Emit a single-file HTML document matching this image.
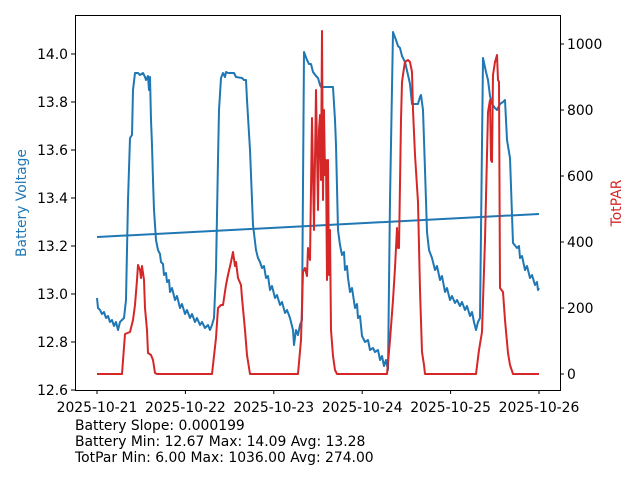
<!DOCTYPE html>
<html><head><style>body{margin:0;background:#fff}svg{display:block}text{font-family:"DejaVu Sans",sans-serif;font-size:13.9px;fill:#000}</style></head><body>
<svg width="640" height="480" viewBox="0 0 640 480">
<g stroke="#000" stroke-width="1" fill="none">
<rect x="75.5" y="15.5" width="485" height="375"/>
<path d="M75 390h-4M75 342h-4M75 294h-4M75 246h-4M75 198h-4M75 150h-4M75 102h-4M75 54h-4M75 390h-4"/>
<path d="M560 374h4M560 308h4M560 242h4M560 176h4M560 110h4M560 44h4"/>
<path d="M97 390v4M185.4 390v4M273.8 390v4M362.2 390v4M450.6 390v4M539 390v4"/>
</g>
<g text-anchor="end">
<text x="68" y="395">12.6</text><text x="68" y="347">12.8</text><text x="68" y="299">13.0</text><text x="68" y="251">13.2</text><text x="68" y="203">13.4</text><text x="68" y="155">13.6</text><text x="68" y="107">13.8</text><text x="68" y="59">14.0</text>
</g>
<g text-anchor="start">
<text x="567" y="379">0</text><text x="567" y="313">200</text><text x="567" y="247">400</text><text x="567" y="181">600</text><text x="567" y="115">800</text><text x="567" y="49">1000</text>
</g>
<g text-anchor="middle">
<text x="97" y="412">2025-10-21</text><text x="185.4" y="412">2025-10-22</text><text x="273.8" y="412">2025-10-23</text><text x="362.2" y="412">2025-10-24</text><text x="450.6" y="412">2025-10-25</text><text x="539" y="412">2025-10-26</text>
</g>
<text transform="translate(26,203) rotate(-90)" text-anchor="middle" style="fill:#1f77b4">Battery Voltage</text>
<text transform="translate(621,203) rotate(-90)" text-anchor="middle" style="fill:#d62728">TotPAR</text>
<text x="75" y="430">Battery Slope: 0.000199</text>
<text x="75" y="446">Battery Min: 12.67 Max: 14.09 Avg: 13.28</text>
<text x="75" y="462">TotPar Min: 6.00 Max: 1036.00 Avg: 274.00</text>
<g fill="none" stroke-width="2" stroke-linejoin="round">
<polyline stroke="#1f77b4" points="97,298 98,308 100,310 102,314 104,312 106,318 108,316 110,322 112,320 114,326 116,322 118,330 120,322 122,320 124,318 126,300 128,200 130,138 132,135 133,90 135,73 138,73 140,75 143,73 145,77 146,80 148,76 149,90 150,77 151,120 152,145 153,180 154,210 156,240 158,250 160,254 161,262 163,264 164,275 166,273 167,282 169,280 170,292 172,288 175,300 177,296 180,308 182,304 185,314 187,310 190,318 192,314 195,322 197,318 200,325 202,322 205,328 208,325 210,330 212,325 214,318 216,270 218,160 219,110 221,78 223,73 225,77 226,72 228,73 234,73 236,77 242,78 244,80 246,80 247,100 250,150 253,225 256,250 258,258 260,262 262,268 264,266 266,278 268,276 270,290 272,286 275,298 277,295 280,305 282,302 285,313 287,310 290,318 293,330 294,345 296,330 298,335 300,325 302,320 304,52 307,60 309,64 311,64 313,72 316,76 318,78 320,85 321,87 333,87 335,120 336,145 338,230 340,245 342,255 344,252 345,270 347,266 348,278 350,292 352,288 355,308 357,304 358,318 360,316 362,336 365,342 368,340 370,350 373,348 375,352 378,350 380,360 382,356 384,366 386,360 388,370 390,200 393,32 396,40 398,46 400,48 402,56 405,62 408,75 410,84 412,104 418,104 420,97 421,95 423,110 425,170 427,232 429,250 432,258 435,270 437,266 440,280 442,276 445,292 447,288 450,300 452,296 455,303 457,300 460,306 462,302 465,310 467,306 470,316 472,312 474,322 476,330 478,322 480,318 483,58 486,72 488,80 490,96 492,104 495,108 497,110 500,104 503,102 505,100 507,140 510,158 512,215 513,243 517,248 519,246 520,258 522,256 525,270 527,266 530,278 532,275 535,285 537,282 538,290 539,288"/>
<polyline stroke="#1f77b4" points="97,237 539,214"/>
<polyline stroke="#d62728" points="97,374 122,374 125,334 130,332 133,320 135,305 137,280 138,265 140,270 141,278 142,266 144,280 145,308 147,330 148,353 151,355 153,360 155,373 157,374 212,374 216,338 218,308 221,305 223,305 226,285 228,275 231,262 233,252 235,266 236,262 238,278 241,285 242,298 245,330 247,355 250,374 298,374 301,340 303,272 305,268 307,276 308,248 310,260 312,118 314,230 316,90 318,210 319,130 320,115 321,180 322,31 323,200 324,110 325,175 326,160 327,280 328,160 329,275 330,230 331,330 333,356 335,370 337,374 387,374 390,340 393,300 395,268 397,228 398,248 399,248 401,120 402,82 404,68 405,62 408,60 410,62 412,72 413,110 415,155 418,202 420,290 422,352 424,365 425,374 476,374 479,350 482,332 485,240 488,112 490,100 491,160 492,162 493,75 495,62 497,55 498,80 499,82 500,288 503,292 505,320 508,353 510,365 513,374 539,374"/>
</g>
</svg>
</body></html>
